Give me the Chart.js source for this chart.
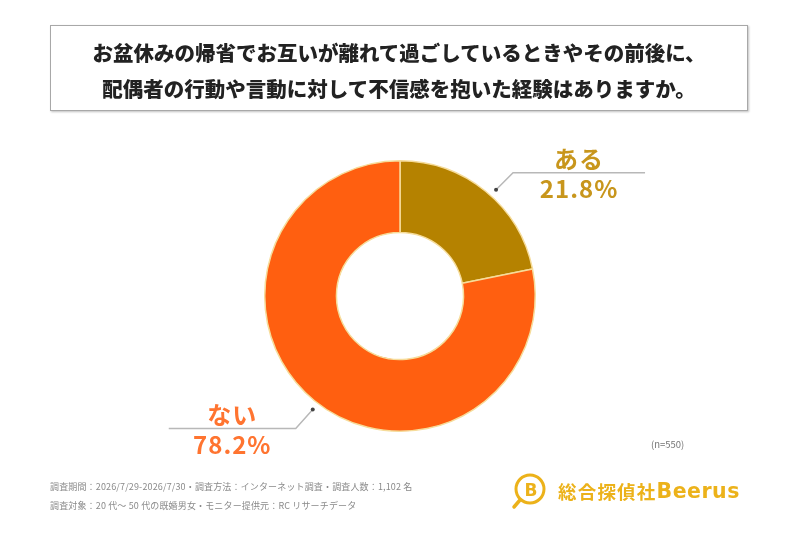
<!DOCTYPE html>
<html lang="ja">
<head>
<meta charset="utf-8">
<title>お盆休みの帰省</title>
<script src="https://cdn.jsdelivr.net/npm/chart.js@4.4.1/dist/chart.umd.min.js"></script>
<style>
    html, body {
        margin: 0;
        padding: 0;
        background: #fff;
        font-family: "Noto Sans CJK JP", "Noto Sans", sans-serif;
    }
    #page {
        position: relative;
        width: 800px;
        height: 533px;
        overflow: hidden;
    }
    #chart {
        position: absolute;
        left: 0;
        top: 0;
    }
    .title-box {
        position: absolute;
        left: 50px;
        top: 25px;
        width: 698px;
        height: 86px;
        border: 1px solid #a8a8a8;
        box-shadow: 1px 1px 2px rgba(0, 0, 0, 0.25);
        box-sizing: border-box;
        text-align: center;
        font-weight: 900;
        font-size: 20.5px;
        line-height: 36px;
        padding-top: 8px;
        color: #222;
    }
    .note {
        position: absolute;
        left: 651px;
        top: 437px;
        font-size: 9.5px;
        color: #777;
    }
    .footer {
        position: absolute;
        left: 50px;
        top: 477px;
        font-size: 9px;
        letter-spacing: 0.15px;
        line-height: 19px;
        color: #8a8a8a;
    }
    .logo {
        position: absolute;
        left: 511px;
        top: 472px;
        display: flex;
        align-items: center;
        color: #ecb21a;
        font-weight: 700;
    }
    .logo .jp { font-size: 18.5px; margin-left: 9px; letter-spacing: 1.2px; }
    .logo .en { font-size: 20.5px; font-family: "DejaVu Sans", sans-serif; letter-spacing: 0.5px; }
</style>
</head>
<body>
<div id="page">
    <canvas id="chart" width="800" height="533"></canvas>
    <div class="title-box">
        お盆休みの帰省でお互いが離れて過ごしているときやその前後に、<br>
        配偶者の行動や言動に対して不信感を抱いた経験はありますか。
    </div>
    <div class="note">(n=550)</div>
    <div class="footer">
        調査期間：2026/7/29-2026/7/30・調査方法：インターネット調査・調査人数：1,102 名<br>
        調査対象：20 代～ 50 代の既婚男女・モニター提供元：RC リサーチデータ
    </div>
    <div class="logo">
        <svg width="38" height="38" viewBox="0 0 38 38">
            <circle cx="19" cy="17" r="14" fill="none" stroke="#ecb21a" stroke-width="3"/>
            <line x1="9" y1="28" x2="3" y2="35" stroke="#ecb21a" stroke-width="3.5" stroke-linecap="round"/>
            <text x="20" y="23.5" text-anchor="middle" font-size="17" font-weight="700" fill="#ecb21a" font-family="DejaVu Sans">B</text>
        </svg>
        <span class="jp">総合探偵社</span><span class="en">Beerus</span>
    </div>
</div>
<script>
const categories = ["ある", "ない"];
const percentages = [21.8, 78.2];
const sliceColors = ["#b58200", "#ff5f10"];
const labelColors = ["#c8961c", "#ff7430"];

// ラベル位置の微調整 (線の向き・角度のずれ・横線の長さ)
const labelSides = [1, -1];
const angleShift = [0.05, -0.03];
const lineLengths = [132, 127];

const leaderLabels = {
    id: "leaderLabels",
    afterDatasetsDraw(chart) {
        const ctx = chart.ctx;
        const meta = chart.getDatasetMeta(0);
        meta.data.forEach((arc, i) => {
            const mid = (arc.startAngle + arc.endAngle) / 2 + angleShift[i];
            const r = arc.outerRadius + 8;
            const x0 = arc.x + Math.cos(mid) * r;
            const y0 = arc.y + Math.sin(mid) * r;
            const side = labelSides[i];
            const dy = Math.sin(mid) < 0 ? -17 : 19;
            const x1 = x0 + side * 17;
            const y1 = y0 + dy;
            const x2 = x1 + side * lineLengths[i];

            ctx.save();
            ctx.strokeStyle = "#b8b8b8";
            ctx.lineWidth = 1.5;
            ctx.beginPath();
            ctx.moveTo(x0, y0);
            ctx.lineTo(x1, y1);
            ctx.lineTo(x2, y1);
            ctx.stroke();

            ctx.fillStyle = "#444";
            ctx.beginPath();
            ctx.arc(x0, y0, 2, 0, Math.PI * 2);
            ctx.fill();

            const cx = (x1 + x2) / 2;
            ctx.fillStyle = labelColors[i];
            ctx.textAlign = "center";
            ctx.font = "700 24px 'Noto Sans CJK JP', sans-serif";
            ctx.letterSpacing = "1px";
            ctx.textBaseline = "bottom";
            ctx.fillText(categories[i], cx, y1 - 2);
            ctx.textBaseline = "top";
            ctx.fillText(percentages[i].toFixed(1) + "%", cx, y1 + 4);
            ctx.restore();
        });
    }
};

new Chart(document.getElementById("chart"), {
    type: "doughnut",
    data: {
        labels: categories,
        datasets: [{
            data: percentages,
            backgroundColor: sliceColors,
            borderColor: "#f6dc9a",
            borderWidth: 1.5
        }]
    },
    options: {
        responsive: false,
        animation: false,
        cutout: "47%",
        layout: {
            padding: { top: 160, bottom: 101, left: 264, right: 264 }
        },
        plugins: {
            legend: { display: false },
            tooltip: { enabled: false }
        }
    },
    plugins: [leaderLabels]
});
</script>
</body>
</html>
